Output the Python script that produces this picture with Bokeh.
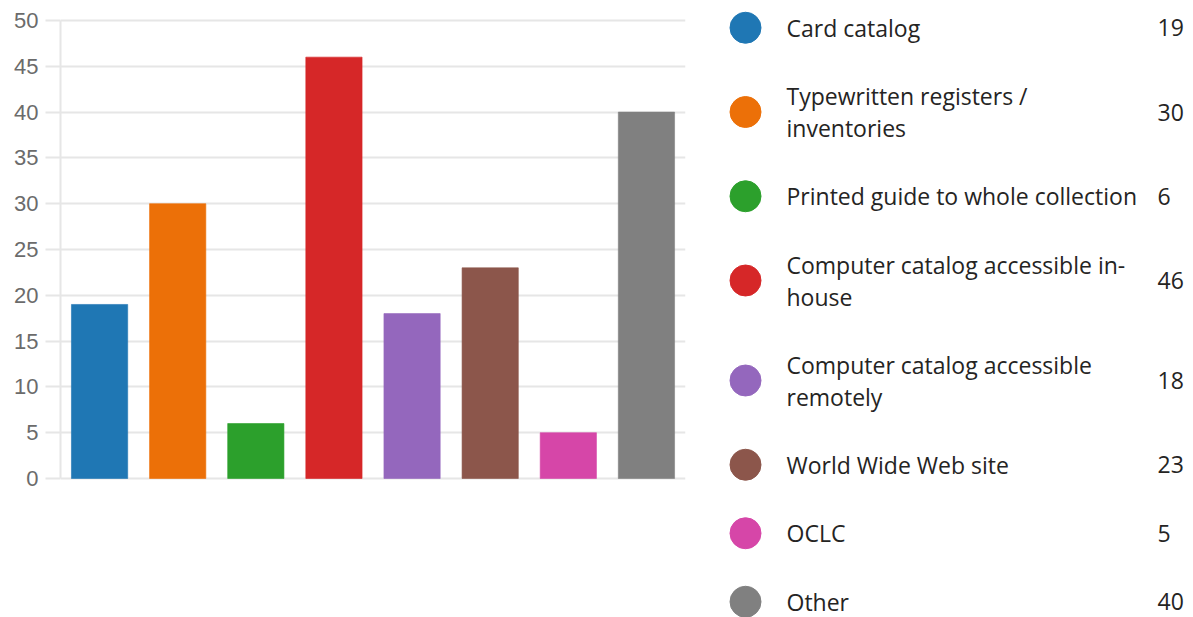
import textwrap

from bokeh.core.properties import value
from bokeh.embed import file_html
from bokeh.layouts import row
from bokeh.models import ColumnDataSource, FactorRange, FixedTicker, Range1d
from bokeh.plotting import figure
from bokeh.resources import INLINE

# Survey responses: finding aids offered
categories = [
    "Card catalog",
    "Typewritten registers / inventories",
    "Printed guide to whole collection",
    "Computer catalog accessible in-house",
    "Computer catalog accessible remotely",
    "World Wide Web site",
    "OCLC",
    "Other",
]
counts = [19, 30, 6, 46, 18, 23, 5, 40]
colors = ["#1f77b4", "#ec7008", "#2ca02c", "#d62728",
          "#9467bd", "#8c564b", "#d646a8", "#808080"]
y_ticks = list(range(0, 51, 5))

GRID = "#e6e6e6"
HEIGHT = 617
Y_MAX = 50
TOP_PX, ZERO_PX = 20, 478            # where 50 and 0 sit on the canvas

# both panels share a full-height frame; the value axis is padded so that
# 0..50 occupies the band between TOP_PX and ZERO_PX
px_per_unit = (ZERO_PX - TOP_PX) / Y_MAX
y_lo = -(HEIGHT - ZERO_PX) / px_per_unit
y_hi = Y_MAX + TOP_PX / px_per_unit

# ---------------- bar chart ----------------
src = ColumnDataSource(dict(cat=categories, n=counts, color=colors))

p = figure(
    x_range=FactorRange(*categories, range_padding=0),
    y_range=Range1d(y_lo, y_hi),
    width=700, height=HEIGHT,
    output_backend="svg", toolbar_location=None,
    x_axis_location=None,
    min_border_left=60, min_border_right=15,
    min_border_top=0, min_border_bottom=0,
)
p.vbar(x="cat", top="n", width=0.72, color="color",
       line_color="color", line_alpha=0.6, source=src)

p.outline_line_color = None
p.xgrid.grid_line_color = None
p.ygrid.grid_line_color = GRID
p.ygrid.grid_line_width = 2

ax = p.yaxis[0]
ax.ticker = FixedTicker(ticks=y_ticks)
ax.bounds = (0, Y_MAX)
ax.axis_line_color = GRID
ax.axis_line_width = 2
ax.major_tick_in = 0
ax.major_tick_out = 15
ax.major_tick_line_color = GRID
ax.major_tick_line_width = 2
ax.minor_tick_line_color = None
ax.major_label_standoff = 7
ax.major_label_text_font = "Liberation Sans"
ax.major_label_text_font_size = "22px"
ax.major_label_text_color = "#6b6b6b"

# ---------------- legend panel ----------------
wrapped = [textwrap.wrap(c, 33, break_on_hyphens=True) for c in categories]
centers = []
top = -7.0
for lines in wrapped:
    h = 37 + 31.5 * len(lines)
    centers.append(top + h / 2)
    top += h

leg = ColumnDataSource(dict(
    y=centers,
    label=["\n".join(l) for l in wrapped],
    val=[str(v) for v in counts],
    color=colors,
))

q = figure(
    width=493, height=HEIGHT,
    x_range=Range1d(0, 493), y_range=Range1d(HEIGHT, 0),
    output_backend="svg", toolbar_location=None,
    x_axis_location=None, y_axis_location=None,
    min_border=0,
)
q.outline_line_color = None
q.xgrid.visible = False
q.ygrid.visible = False

q.scatter(x=45, y="y", size=31, marker="circle", color="color", source=leg)
q.text(x=86, y="y", text="label", source=leg,
       text_font=value("Open Sans"), text_font_size="23px",
       text_color="#252423", text_baseline="middle", text_align="left",
       text_line_height=1.0)
q.text(x=457, y="y", text="val", source=leg,
       text_font=value("Open Sans"), text_font_size="23px",
       text_color="#252423", text_baseline="middle", text_align="left")

layout = row(p, q)
open("out.html", "w").write(file_html(layout, INLINE))
